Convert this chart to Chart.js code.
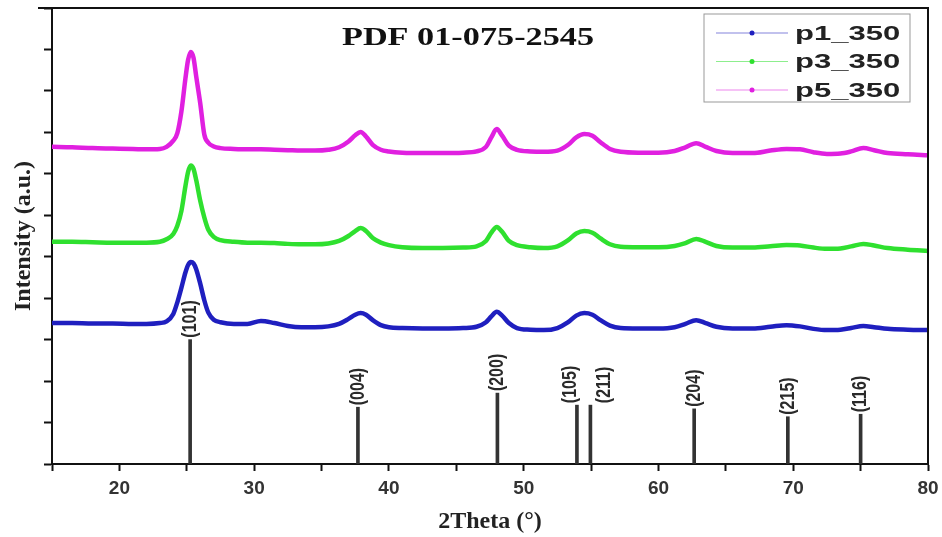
<!DOCTYPE html>
<html>
<head>
<meta charset="utf-8">
<script src="https://cdn.jsdelivr.net/npm/chart.js@4.4.1/dist/chart.umd.min.js"></script>
<style>
  body { margin: 0; background: #fff; }
  #wrap { width: 942px; height: 537px; }
</style>
</head>
<body>
<div id="wrap"><canvas id="xrdChart"></canvas></div>
<script>
// 2Theta grid (deg) and intensities (a.u., stacked offsets as in the figure)
const twoTheta = [15, 16.5, 18, 19.5, 21, 22, 23, 23.5, 24, 24.3, 24.6, 24.9, 25.1, 25.3, 25.5, 25.7, 26.0, 26.3, 26.6, 27,
  27.5, 28.5, 29.5, 30.5, 31.5, 32.5, 33.5, 34.5, 35.5, 36.3, 37.0, 37.5, 37.9, 38.3, 38.8, 39.4, 40, 41, 42.5, 44,
  45.5, 46.5, 47.2, 47.6, 48.0, 48.4, 48.9, 49.5, 50.5, 51.5, 52.5, 53.3, 53.9, 54.5, 55.1, 55.7, 56.4, 57.2, 58.5, 60,
  61.2, 62.0, 62.8, 63.5, 64.3, 65.5, 67, 68.3, 69.5, 70.5, 71.5, 72.5, 73.5, 74.3, 75.2, 76, 77, 78.5, 80];

const p1 = [3.40, 3.40, 3.39, 3.39, 3.38, 3.38, 3.40, 3.44, 3.62, 3.90, 4.25, 4.62, 4.80, 4.87, 4.84, 4.70, 4.35, 3.95, 3.65, 3.48,
  3.42, 3.38, 3.38, 3.45, 3.40, 3.33, 3.30, 3.30, 3.32, 3.38, 3.50, 3.60, 3.64, 3.60, 3.47, 3.35, 3.30, 3.28, 3.27, 3.27,
  3.28, 3.31, 3.42, 3.56, 3.67, 3.58, 3.40, 3.28, 3.24, 3.23, 3.28, 3.42, 3.58, 3.64, 3.60, 3.47, 3.34, 3.28, 3.27, 3.27,
  3.30, 3.38, 3.47, 3.40, 3.31, 3.27, 3.27, 3.31, 3.35, 3.32, 3.26, 3.23, 3.24, 3.28, 3.33, 3.30, 3.26, 3.24, 3.23];

const p3 = [5.36, 5.36, 5.35, 5.34, 5.34, 5.34, 5.36, 5.42, 5.55, 5.75, 6.10, 6.70, 7.05, 7.20, 7.12, 6.85, 6.35, 5.95, 5.65, 5.48,
  5.40, 5.36, 5.34, 5.34, 5.33, 5.31, 5.30, 5.30, 5.32, 5.38, 5.50, 5.62, 5.69, 5.62, 5.45, 5.34, 5.28, 5.23, 5.21, 5.21,
  5.22, 5.25, 5.38, 5.58, 5.72, 5.60, 5.38, 5.28, 5.23, 5.21, 5.25, 5.40, 5.56, 5.62, 5.58, 5.44, 5.30, 5.24, 5.23, 5.23,
  5.26, 5.33, 5.43, 5.36, 5.26, 5.22, 5.22, 5.25, 5.28, 5.27, 5.22, 5.19, 5.20, 5.25, 5.31, 5.27, 5.21, 5.17, 5.14];

const p5 = [7.65, 7.64, 7.62, 7.61, 7.60, 7.59, 7.60, 7.65, 7.80, 7.98, 8.50, 9.30, 9.75, 9.94, 9.80, 9.35, 8.70, 7.95, 7.75, 7.66,
  7.62, 7.60, 7.59, 7.59, 7.58, 7.57, 7.56, 7.56, 7.58, 7.64, 7.78, 7.93, 8.01, 7.90, 7.70, 7.58, 7.54, 7.51, 7.50, 7.50,
  7.51, 7.54, 7.65, 7.88, 8.08, 7.92, 7.68, 7.58, 7.54, 7.53, 7.56, 7.70, 7.88, 7.96, 7.92, 7.76, 7.60, 7.53, 7.51, 7.51,
  7.55, 7.64, 7.74, 7.65, 7.55, 7.50, 7.50, 7.56, 7.60, 7.59, 7.52, 7.48, 7.49, 7.54, 7.62, 7.57, 7.50, 7.47, 7.45];

// reference pattern PDF 01-075-2545
const refPos = [25.25, 37.7, 48.05, 53.95, 54.95, 62.65, 69.6, 75.0];
const refInt = [3.0, 1.37, 1.71, 1.42, 1.42, 1.33, 1.14, 1.2];
const refHkl = ['(101)', '(004)', '(200)', '(105)', '(211)', '(204)', '(215)', '(116)'];

const seriesNames = ['p1_350', 'p3_350', 'p5_350'];
const seriesColors = ['#1f1fbf', '#2fe02f', '#e020e0'];

const toPts = ys => twoTheta.map((x, i) => ({x: x, y: ys[i]}));

// text drawn a bit wider than the font, like the stretched original figure
function wideText(ctx, text, x, y, sx) {
  ctx.save();
  ctx.translate(x, y);
  ctx.scale(sx, 1);
  ctx.fillText(text, 0, 0);
  ctx.restore();
}

const extras = {
  id: 'extras',
  afterDatasetsDraw(chart) {
    const {ctx, chartArea: a} = chart;
    ctx.save();

    // top and right frame
    ctx.strokeStyle = '#111';
    ctx.lineWidth = 2;
    ctx.beginPath();
    ctx.moveTo(a.left - 14, a.top);
    ctx.lineTo(a.right, a.top);
    ctx.lineTo(a.right, a.bottom);
    ctx.stroke();

    // hkl labels above the sticks
    const bars = chart.getDatasetMeta(3).data;
    ctx.font = 'bold 16px "Liberation Sans", Arial, sans-serif';
    ctx.fillStyle = '#2a2a2a';
    ctx.textAlign = 'left';
    ctx.textBaseline = 'middle';
    bars.forEach((b, i) => {
      let dx = 0;
      const prev = bars[i - 1], next = bars[i + 1];
      if (next && next.x - b.x < 16) dx = -7;
      if (prev && b.x - prev.x < 16) dx = 14;
      ctx.save();
      ctx.translate(b.x + dx, b.y - 2);
      ctx.rotate(-Math.PI / 2);
      ctx.scale(1, 1.3);
      ctx.fillText(refHkl[i], 0, 0);
      ctx.restore();
    });

    // card title
    ctx.font = 'bold 25px "Liberation Serif", "Times New Roman", serif';
    ctx.fillStyle = '#111';
    ctx.textAlign = 'center';
    wideText(ctx, 'PDF 01-075-2545', 468, a.top + 31, 1.37);

    // legend box
    const bw = 206, bh = 88;
    const bx = a.right - 18 - bw, by = a.top + 6;
    ctx.strokeStyle = '#999';
    ctx.lineWidth = 1;
    ctx.strokeRect(bx, by, bw, bh);
    ctx.font = 'bold 20px "Liberation Sans", Arial, sans-serif';
    ctx.textAlign = 'left';
    ctx.textBaseline = 'middle';
    seriesNames.forEach((name, i) => {
      const y = by + 19 + i * 28.5;
      ctx.strokeStyle = seriesColors[i];
      ctx.globalAlpha = 0.55;
      ctx.beginPath();
      ctx.moveTo(bx + 12, y);
      ctx.lineTo(bx + 84, y);
      ctx.stroke();
      ctx.globalAlpha = 1;
      ctx.fillStyle = seriesColors[i];
      ctx.beginPath();
      ctx.arc(bx + 48, y, 2.5, 0, Math.PI * 2);
      ctx.fill();
      ctx.fillStyle = '#222';
      wideText(ctx, name, bx + 91, y + 1, 1.55);
    });
    ctx.restore();
  }
};

const lineSet = (i, ys) => ({
  type: 'line',
  label: seriesNames[i],
  data: toPts(ys),
  borderColor: seriesColors[i],
  backgroundColor: seriesColors[i],
  borderWidth: 4.5,
  pointRadius: 0,
  cubicInterpolationMode: 'monotone',
  fill: false
});

new Chart(document.getElementById('xrdChart'), {
  data: {
    datasets: [
      lineSet(0, p1),
      lineSet(1, p3),
      lineSet(2, p5),
      {
        type: 'bar',
        label: 'PDF',
        data: refPos.map((x, i) => ({x: x, y: refInt[i]})),
        backgroundColor: '#333',
        barThickness: 3,
        grouped: false
      }
    ]
  },
  options: {
    responsive: true,
    maintainAspectRatio: false,
    animation: false,
    layout: {padding: {top: 8, right: 14, left: 0, bottom: 0}},
    plugins: {
      legend: {display: false},
      tooltip: {enabled: false}
    },
    scales: {
      x: {
        type: 'linear',
        min: 15,
        max: 80,
        offset: false,
        afterFit: s => { s.height = 73; s.paddingRight = 0; s.paddingLeft = 0; },
        ticks: {
          stepSize: 5,
          autoSkip: false,
          maxRotation: 0,
          padding: 6,
          color: '#333',
          font: {family: '"Liberation Sans", Arial, sans-serif', size: 19, weight: 'bold'},
          callback: v => (v % 10 === 0 ? v : '')
        },
        grid: {offset: false, drawOnChartArea: false, drawTicks: true, tickLength: 7, tickWidth: 2, tickColor: '#111'},
        border: {display: true, color: '#111', width: 2},
        title: {
          display: true,
          text: '2Theta (°)',
          color: '#222',
          padding: {top: 0, bottom: 1},
          font: {family: '"Liberation Serif", "Times New Roman", serif', size: 24, weight: 'bold'}
        }
      },
      y: {
        min: 0,
        max: 11,
        afterFit: s => { s.width = 52; },
        ticks: {stepSize: 1, display: false},
        grid: {drawOnChartArea: false, drawTicks: true, tickLength: 8, tickWidth: 2, tickColor: '#111'},
        border: {display: true, color: '#111', width: 2},
        title: {
          display: true,
          text: 'Intensity (a.u.)',
          color: '#222',
          padding: {top: 9, bottom: 0},
          font: {family: '"Liberation Serif", "Times New Roman", serif', size: 24, weight: 'bold'}
        }
      }
    }
  },
  plugins: [extras]
});
</script>
</body>
</html>
